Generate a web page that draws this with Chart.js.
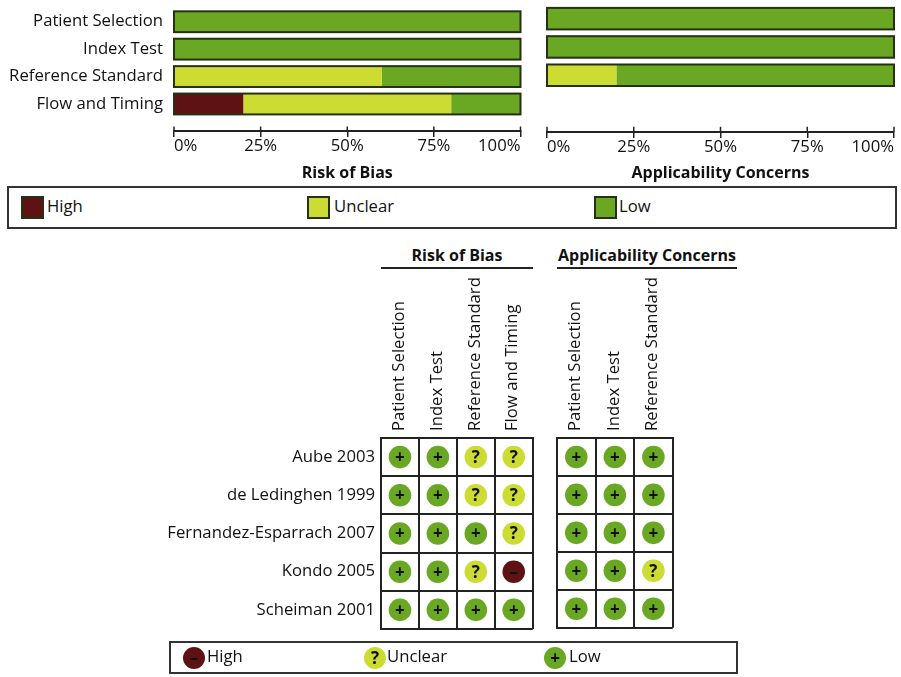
<!DOCTYPE html>
<html>
<head>
<meta charset="utf-8">
<title>Risk of bias summary</title>
<script src="https://cdn.jsdelivr.net/npm/chart.js@4/dist/chart.umd.min.js"></script>
<style>
  html, body { margin: 0; padding: 0; background: #fff; }
  body { position: relative; width: 901px; height: 677px; overflow: hidden; font-family: "Open Sans", sans-serif; color: #111; filter: blur(0.35px); }
  canvas { position: absolute; }
  .box { position: absolute; box-sizing: border-box; border: 2px solid #333; }
  .swatch { position: absolute; box-sizing: border-box; border: 2px solid #263012; }
  .dot { position: absolute; width: 22px; height: 22px; border-radius: 50%; text-align: center; font: bold 17px/22px "Open Sans", sans-serif; color: #111; }
  .lbl { position: absolute; font-size: 16.7px; line-height: 20px; white-space: nowrap; }
  .head { position: absolute; box-sizing: border-box; top: 245px; height: 24px; border-bottom: 2px solid #222; text-align: center; font: bold 16px/20px "Open Sans", sans-serif; white-space: nowrap; }
</style>
</head>
<body>
<canvas id="barsRisk" width="535" height="195" style="left:0;top:-13px"></canvas>
<canvas id="barsApplic" width="366" height="182" style="left:535px;top:0"></canvas>
<div class="box" id="legendBars" style="left:7px;top:186px;width:890px;height:43px"></div>
<div class="head" style="left:381px;width:152px">Risk of Bias</div>
<div class="head" style="left:557px;width:180px">Applicability Concerns</div>
<canvas id="gridRisk" width="544" height="375" style="left:0;top:270px"></canvas>
<canvas id="gridApplic" width="139" height="369" style="left:545px;top:270px"></canvas>
<div class="box" id="legendGrid" style="left:169px;top:641px;width:569px;height:33px"></div>
<script>
const TEXT = "#111111";
const LINE = "#222222";
const OUTLINE = "#263012";
const HIGH = "#5f1214";
const UNCLEAR = "#cddc33";
const LOW = "#6aa823";
const FONT = '"Open Sans", sans-serif';
const FONT_SIZE = 16.7;

const riskDomains = ["Patient Selection", "Index Test", "Reference Standard", "Flow and Timing"];
const applicDomains = ["Patient Selection", "Index Test", "Reference Standard"];
const studies = ["Aube 2003", "de Ledinghen 1999", "Fernandez-Esparrach 2007", "Kondo 2005", "Scheiman 2001"];
const levels = ["High", "Unclear", "Low"];

// percent of studies per domain
const riskHigh = [0, 0, 0, 20];
const riskUnclear = [0, 0, 60, 60];
const riskLow = [100, 100, 40, 20];
const applicHigh = [0, 0, 0, null];
const applicUnclear = [0, 0, 20, null];
const applicLow = [100, 100, 80, null];

const percentTicks = [0, 25, 50, 75, 100];

// judgement per study (row) and domain (column)
const riskCells = [
  ["+", "+", "?", "?"],
  ["+", "+", "?", "?"],
  ["+", "+", "+", "?"],
  ["+", "+", "?", "–"],
  ["+", "+", "+", "+"],
];
const applicCells = [
  ["+", "+", "+"],
  ["+", "+", "+"],
  ["+", "+", "+"],
  ["+", "+", "?"],
  ["+", "+", "+"],
];

const levelColors = [HIGH, UNCLEAR, LOW];
const levelGlyphs = ["–", "?", "+"];

const AXIS_ROW = 4; // axis sits one row below the last bar

// outline round each stacked bar, and the upper half of the axis ticks
const barFrame = {
  id: "barFrame",
  afterDraw(chart) {
    const { ctx, scales: { x } } = chart;
    const first = chart.getDatasetMeta(0).data;
    const axisY = chart.scales.y.getPixelForValue(AXIS_ROW);
    ctx.save();
    ctx.strokeStyle = OUTLINE;
    ctx.lineWidth = 2;
    first.forEach((bar, i) => {
      if (chart.data.datasets[2].data[i] == null) return;
      const left = x.getPixelForValue(0);
      ctx.strokeRect(left, bar.y - bar.height / 2, x.getPixelForValue(100) - left, bar.height);
    });
    ctx.strokeStyle = LINE;
    ctx.lineWidth = 1.5;
    ctx.beginPath();
    x.ticks.forEach((t) => {
      const px = x.getPixelForValue(t.value);
      ctx.moveTo(px, axisY);
      ctx.lineTo(px, axisY - 5);
    });
    ctx.stroke();
    ctx.restore();
  },
};

function barChart(id, labels, high, unclear, low, title, padding, showLabels) {
  return new Chart(document.getElementById(id), {
    type: "bar",
    data: {
      labels,
      datasets: [
        { label: levels[0], data: high, backgroundColor: HIGH },
        { label: levels[1], data: unclear, backgroundColor: UNCLEAR },
        { label: levels[2], data: low, backgroundColor: LOW },
      ],
    },
    plugins: [barFrame],
    options: {
      indexAxis: "y",
      responsive: false,
      animation: false,
      layout: { padding },
      plugins: { legend: { display: false }, tooltip: { enabled: false } },
      datasets: { bar: { categoryPercentage: 1, barPercentage: 0.76, borderWidth: 0 } },
      scales: {
        x: {
          stacked: true,
          min: 0,
          max: 100,
          position: { y: AXIS_ROW },
          afterBuildTicks: (s) => { s.ticks = percentTicks.map((value) => ({ value })); },
          grid: { drawOnChartArea: false, drawTicks: true, tickLength: 5, color: LINE, lineWidth: 1.5 },
          border: { display: true, color: LINE, width: 2 },
          ticks: {
            align: "inner",
            maxRotation: 0,
            padding: 0,
            color: TEXT,
            font: { family: FONT, size: FONT_SIZE },
            callback: (v) => v + "%",
          },
          title: {
            display: true,
            text: title,
            color: TEXT,
            font: { family: FONT, size: 16, weight: "bold" },
            padding: { top: 7, bottom: 0 },
          },
        },
        y: {
          stacked: true,
          display: showLabels,
          afterFit: (s) => { if (showLabels) s.width = 174; },
          grid: { display: false, drawTicks: false },
          border: { display: false },
          ticks: { color: TEXT, padding: 11, font: { family: FONT, size: FONT_SIZE } },
        },
      },
    },
  });
}

// + ? - on top of the judgement circles
const glyphs = {
  id: "glyphs",
  afterDatasetsDraw(chart) {
    const { ctx } = chart;
    ctx.save();
    ctx.font = `bold 17px ${FONT}`;
    ctx.textAlign = "center";
    ctx.textBaseline = "middle";
    ctx.fillStyle = "#111111";
    chart.data.datasets.forEach((ds, i) => {
      chart.getDatasetMeta(i).data.forEach((pt) => ctx.fillText(ds.label, pt.x, pt.y + 1));
    });
    ctx.restore();
  },
};

function gridChart(id, domains, cells, padding, showStudies) {
  const datasets = levelGlyphs.map((glyph, k) => {
    const data = [];
    cells.forEach((row, r) => row.forEach((c, col) => {
      if (c === glyph) data.push({ x: domains[col], y: studies[r] });
    }));
    return { label: glyph, data, backgroundColor: levelColors[k], pointRadius: 11.3, borderWidth: 0 };
  });
  return new Chart(document.getElementById(id), {
    type: "scatter",
    data: { datasets },
    plugins: [glyphs],
    options: {
      responsive: false,
      animation: false,
      layout: { padding },
      plugins: { legend: { display: false }, tooltip: { enabled: false } },
      scales: {
        x: {
          type: "category",
          labels: domains,
          offset: true,
          position: "top",
          afterFit: (s) => { s.height = 168; },
          grid: { offset: true, drawTicks: false, color: LINE, lineWidth: 2 },
          border: { color: LINE, width: 2 },
          ticks: {
            autoSkip: false,
            minRotation: 90,
            maxRotation: 90,
            padding: 7,
            labelOffset: 19,
            color: TEXT,
            font: { family: FONT, size: FONT_SIZE },
          },
        },
        y: {
          type: "category",
          labels: studies,
          offset: true,
          afterFit: (s) => { s.width = showStudies ? 381 : 0; },
          grid: { offset: true, drawTicks: false, color: LINE, lineWidth: 2 },
          border: { color: LINE, width: 2 },
          ticks: { display: showStudies, padding: 6, color: TEXT, font: { family: FONT, size: FONT_SIZE } },
        },
      },
    },
  });
}

barChart("barsRisk", riskDomains, riskHigh, riskUnclear, riskLow, "Risk of Bias",
  { top: 4.5, right: 14.5, bottom: 64.3, left: 0 }, true);
barChart("barsApplic", riskDomains, applicHigh, applicUnclear, applicLow, "Applicability Concerns",
  { top: 4.5, right: 7, bottom: 64.3, left: 12 }, false);
gridChart("gridRisk", riskDomains, riskCells, { top: 0, right: 0, bottom: 0, left: 0 }, true);
gridChart("gridApplic", applicDomains, applicCells, { top: 0, right: 0, bottom: 0, left: 12 }, false);

// legends, positions relative to their boxes
const barLegendX = [12, 298, 585];
const barLabelX = [38, 325, 610];
const dotLegendX = [12, 193, 373];
const dotLabelX = [36, 216, 398];

function addEl(parent, cls, css, text) {
  const el = document.createElement("div");
  el.className = cls;
  el.style.cssText = css;
  if (text) el.textContent = text;
  parent.appendChild(el);
}

const legendBars = document.getElementById("legendBars");
const legendGrid = document.getElementById("legendGrid");
levels.forEach((name, i) => {
  addEl(legendBars, "swatch", `left:${barLegendX[i]}px;top:8px;width:23px;height:23px;background:${levelColors[i]}`);
  addEl(legendBars, "lbl", `left:${barLabelX[i]}px;top:8px`, name);
  addEl(legendGrid, "dot", `left:${dotLegendX[i]}px;top:4px;background:${levelColors[i]}`, levelGlyphs[i]);
  addEl(legendGrid, "lbl", `left:${dotLabelX[i]}px;top:3px`, name);
});
</script>
</body>
</html>
